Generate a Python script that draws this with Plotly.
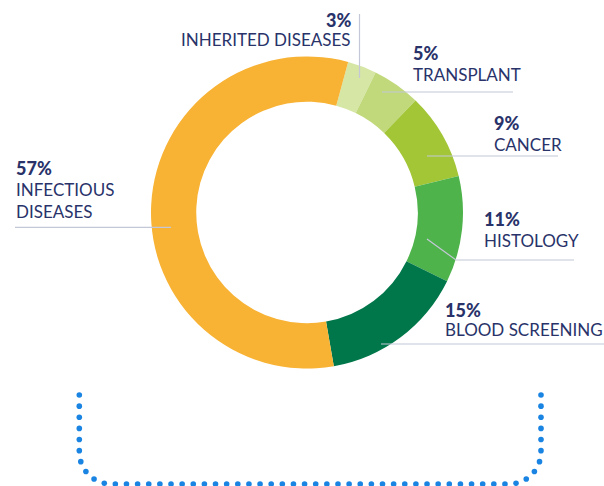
import numpy as np
import plotly.graph_objects as go

# ---- data ----
categories = ["INHERITED DISEASES", "TRANSPLANT", "CANCER", "HISTOLOGY",
              "BLOOD SCREENING", "INFECTIOUS DISEASES"]
values = [3, 5, 9, 11, 15, 57]
label_lines = [["INHERITED DISEASES"], ["TRANSPLANT"], ["CANCER"], ["HISTOLOGY"],
               ["BLOOD SCREENING"], ["INFECTIOUS", "DISEASES"]]
colors = ["#d5e6a5", "#c1d97b", "#a2c636", "#4fb34b", "#00774a", "#f8b234"]

W, H = 604, 486
NAVY = "#29336a"
LINE = "#c4c7d8"
DOT = "#1a84e3"

fig = go.Figure()

# donut
cx, cy, R = 307, 212.5, 156
fig.add_trace(go.Pie(
    labels=categories, values=values, sort=False, direction="clockwise",
    rotation=15.3, hole=0.71, textinfo="none", hoverinfo="label+percent",
    marker=dict(colors=colors, line=dict(width=0)),
    domain=dict(x=[(cx - R) / W, (cx + R) / W], y=[1 - (cy + R) / H, 1 - (cy - R) / H]),
    showlegend=False,
))

# label placement (pixel coords: anchor x, pct cap-top y, label cap-top y, alignment)
label_pos = [
    (352, 14, 33.3, "right"),
    (412, 46.7, 68.3, "left"),
    (493.3, 117.3, 138.3, "left"),
    (482.7, 213.3, 235, "left"),
    (444, 304, 323.3, "left"),
    (15, 161.7, 183.3, "left"),
]
FS_PCT = 18
FS_LBL = 17
for (x, yp, yl, al), v, lines in zip(label_pos, values, label_lines):
    fig.add_annotation(x=x, y=yp - 0.34 * FS_PCT, xref="x", yref="y",
                       text=f"{v}%", showarrow=False, xanchor=al,
                       yanchor="top", align=al, borderpad=0,
                       font=dict(family="Lato", size=FS_PCT, color=NAVY, weight=900))
    fig.add_annotation(x=x, y=yl - 0.34 * FS_LBL, xref="x", yref="y",
                       text="<br>".join(lines), showarrow=False, xanchor=al,
                       yanchor="top", align=al, borderpad=0,
                       font=dict(family="Lato", size=FS_LBL, color=NAVY))

# leader lines (pixel coords)
leaders = [
    [(359.5, 14), (359.5, 78)],
    [(382, 92), (513, 92)],
    [(427, 156), (558, 156)],
    [(427, 239), (456, 260), (574, 260)],
    [(381, 344), (604, 344)],
    [(15, 227.3), (171, 227.3)],
]
for pts in leaders:
    path = "M " + " L ".join(f"{px},{py}" for px, py in pts)
    fig.add_shape(type="path", path=path, xref="x", yref="y",
                  line=dict(color=LINE, width=1.2))

# dotted bracket: rounded U path sampled evenly
xl, xr, yt, yb, rc = 79.3, 541, 395, 484, 32
segs = []
n = 200
segs.append(np.column_stack([np.full(n, xl), np.linspace(yt, yb - rc, n)]))
t = np.linspace(np.pi, np.pi / 2, n)
segs.append(np.column_stack([xl + rc + rc * np.cos(t), yb - rc + rc * np.sin(t)]))
segs.append(np.column_stack([np.linspace(xl + rc, xr - rc, n), np.full(n, yb)]))
t = np.linspace(np.pi / 2, 0, n)
segs.append(np.column_stack([xr - rc + rc * np.cos(t), yb - rc + rc * np.sin(t)]))
segs.append(np.column_stack([np.full(n, xr), np.linspace(yb - rc, yt, n)]))
P = np.vstack(segs)
d = np.r_[0, np.cumsum(np.hypot(np.diff(P[:, 0]), np.diff(P[:, 1])))]
ndots = int(round(d[-1] / 11.2))
s = np.linspace(0, d[-1], ndots + 1)
dx = np.interp(s, d, P[:, 0])
dy = np.interp(s, d, P[:, 1])
fig.add_trace(go.Scatter(x=dx, y=dy, mode="markers", hoverinfo="skip",
                         marker=dict(size=5.6, color=DOT, line=dict(width=0)),
                         showlegend=False, cliponaxis=False))

fig.update_layout(
    width=W, height=H, margin=dict(l=0, r=0, t=0, b=0),
    paper_bgcolor="white", plot_bgcolor="rgba(0,0,0,0)",
    xaxis=dict(range=[0, W], visible=False, fixedrange=True, domain=[0, 1]),
    yaxis=dict(range=[H, 0], visible=False, fixedrange=True, domain=[0, 1]),
)
fig.write_html("out.html", config={"displayModeBar": False},
               post_script="document.body.style.margin='0';document.body.style.overflow='hidden';")
